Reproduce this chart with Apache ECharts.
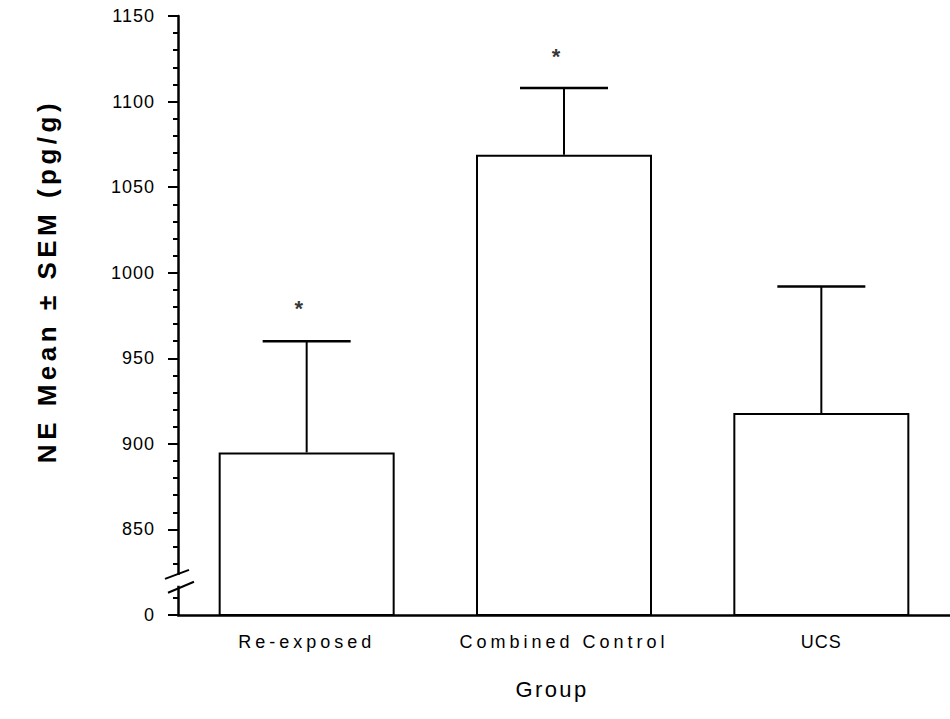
<!DOCTYPE html>
<html>
<head>
<meta charset="utf-8">
<title>NE by group</title>
<script src="https://cdn.jsdelivr.net/npm/echarts@6/dist/echarts.min.js"></script>
<style>
  html, body { margin: 0; padding: 0; background: #fff; }
  #chart { width: 950px; height: 719px; }
</style>
</head>
<body>
<div id="chart"></div>
<script>
// Norepinephrine (NE) level per group, mean with SEM.
const groups = ['Re-exposed', 'Combined Control', 'UCS'];
const meanNE = [895, 1069, 918];
const semNE = [65, 39, 74];
// Level at which a significance star is printed (null = none).
const starLevel = [982, 1129, null];

// Value axis: the lower end of the broken axis reads as 0.
const AXIS_BASE = 800;
const AXIS_TOP = 1150;
const AXIS_STEP = 50;
const baseLabel = '0';
// Break marks on the value axis sit between these two levels.
const breakUpper = 824;
const breakLower = 816.5;

const FONT = '"Liberation Sans", Arial, Helvetica, sans-serif';
const GRID_LEFT = 178;

const chart = echarts.init(document.getElementById('chart'), null, { renderer: 'svg' });

function renderErrorBar(params, api) {
  const i = api.value(0);
  const base = api.coord([i, api.value(1)]);
  const top = api.coord([i, api.value(2)]);
  const half = 44;
  return {
    type: 'group',
    children: [
      { type: 'line', shape: { x1: base[0], y1: base[1], x2: top[0], y2: top[1] },
        style: { stroke: '#000', lineWidth: 2 } },
      { type: 'line', shape: { x1: top[0] - half, y1: top[1], x2: top[0] + half, y2: top[1] },
        style: { stroke: '#000', lineWidth: 2.5 } }
    ]
  };
}

const option = {
  animation: false,
  backgroundColor: '#fff',
  grid: { left: GRID_LEFT, right: 0, top: 16, bottom: 104 },
  xAxis: {
    type: 'category',
    data: groups,
    axisLine: { lineStyle: { color: '#000', width: 2.5 } },
    axisTick: { show: false },
    axisLabel: { color: '#000', fontSize: 18, fontFamily: FONT, margin: 18 },
    name: 'Group',
    nameLocation: 'middle',
    nameGap: 63,
    nameTextStyle: { color: '#000', fontSize: 22, fontFamily: FONT, padding: [0, 24, 0, 0] }
  },
  yAxis: {
    type: 'value',
    min: AXIS_BASE,
    max: AXIS_TOP,
    interval: AXIS_STEP,
    axisLine: { show: true, lineStyle: { color: '#000', width: 2.5 } },
    axisTick: { show: true, length: 10, lineStyle: { color: '#000', width: 2 } },
    minorTick: { show: true, splitNumber: 5, length: 5, lineStyle: { color: '#000', width: 2 } },
    splitLine: { show: false },
    axisLabel: {
      color: '#000', fontSize: 18, fontFamily: FONT, margin: 23,
      formatter: v => (v === AXIS_BASE ? baseLabel : String(v))
    }
  },
  series: [
    {
      type: 'bar',
      data: meanNE,
      barWidth: 176,
      clip: true,
      itemStyle: { color: '#fff', borderColor: '#000', borderWidth: 2 },
      z: 2
    },
    {
      type: 'custom',
      renderItem: renderErrorBar,
      encode: { x: 0, y: [1, 2] },
      data: meanNE.map((m, i) => [i, m, m + semNE[i]]),
      z: 3
    },
    {
      type: 'scatter',
      symbolSize: 1,
      itemStyle: { color: 'rgba(0,0,0,0)' },
      data: starLevel.map((v, i) => (v == null ? null : [i, v])).filter(Boolean),
      label: {
        show: true, position: 'inside', formatter: '*',
        color: '#000', fontSize: 22, fontWeight: 'bold', fontFamily: FONT,
        offset: [-8, 5]
      },
      z: 4
    }
  ],
  graphic: [
    {
      id: 'ytitle', type: 'text', x: 47, y: 281, rotation: Math.PI / 2,
      style: {
        text: 'NE Mean \u00b1 SEM (pg/g)', fill: '#000',
        font: 'bold 26px ' + FONT,
        textAlign: 'center', textVerticalAlign: 'middle',
        align: 'center', verticalAlign: 'middle'
      }
    }
  ]
};

chart.setOption(option);

// Axis break: blank the axis between the two slashes and draw them.
function drawBreak() {
  const yU = chart.convertToPixel({ yAxisIndex: 0 }, breakUpper);
  const yL = chart.convertToPixel({ yAxisIndex: 0 }, breakLower);
  const ax = GRID_LEFT;
  chart.setOption({
    graphic: [
      { id: 'gap', type: 'rect', z: 100,
        shape: { x: ax - 8, y: yU + 1, width: 14, height: yL - yU - 2 },
        style: { fill: '#fff' } },
      { id: 'slashU', type: 'line', z: 101,
        shape: { x1: ax - 13, y1: yU + 5, x2: ax + 11, y2: yU - 4 },
        style: { stroke: '#000', lineWidth: 2 } },
      { id: 'slashL', type: 'line', z: 101,
        shape: { x1: ax - 10, y1: yL + 6, x2: ax + 16, y2: yL - 5 },
        style: { stroke: '#000', lineWidth: 2 } }
    ]
  });
}
drawBreak();

// Wide letter spacing of the typeset labels.
function trackText() {
  document.querySelectorAll('#chart svg text').forEach(t => {
    const s = t.textContent;
    let sp = 1;
    if (groups.includes(s)) sp = (s === 'UCS') ? 1 : 4;
    else if (s === 'Group') sp = 2.4;
    else if (s.indexOf('NE') === 0) sp = 4.5;
    else if (s === '*') sp = 0;
    t.setAttribute('letter-spacing', sp + 'px');
  });
}
trackText();
chart.on('finished', trackText);
</script>
</body>
</html>
